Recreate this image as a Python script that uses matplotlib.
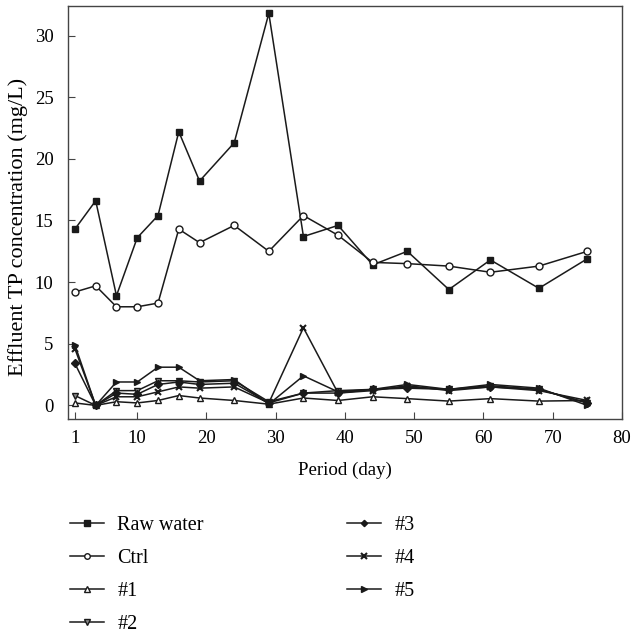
import numpy as np
import matplotlib.pyplot as plt

plt.rcParams['font.family'] = ['Liberation Serif', 'DejaVu Serif']

days = [1, 4, 7, 10, 13, 16, 19, 24, 29, 34, 39, 44, 49, 55, 61, 68, 75]

raw_water = [14.3, 16.6, 8.9, 13.6, 15.4, 22.2, 18.2, 21.3, 31.8, 13.7, 14.6, 11.4, 12.5, 9.4, 11.8, 9.5, 11.9]
ctrl = [9.2, 9.7, 8.0, 8.0, 8.3, 14.3, 13.2, 14.6, 12.5, 15.4, 13.8, 11.6, 11.5, 11.3, 10.8, 11.3, 12.5]
s1 = [0.2, 0.0, 0.3, 0.2, 0.4, 0.8, 0.6, 0.4, 0.1, 0.6, 0.4, 0.7, 0.55, 0.35, 0.55, 0.35, 0.4]
s2 = [0.8, 0.0, 1.2, 1.2, 2.0, 2.0, 1.9, 2.0, 0.3, 1.0, 1.2, 1.3, 1.5, 1.3, 1.6, 1.3, 0.2]
s3 = [3.4, 0.0, 1.0, 0.9, 1.7, 1.9, 1.7, 1.8, 0.2, 1.0, 1.0, 1.3, 1.4, 1.3, 1.5, 1.3, 0.2]
s4 = [4.6, 0.0, 0.7, 0.7, 1.1, 1.5, 1.4, 1.5, 0.2, 6.3, 1.0, 1.2, 1.6, 1.2, 1.5, 1.2, 0.4]
s5 = [4.9, 0.0, 1.9, 1.9, 3.1, 3.1, 2.0, 2.1, 0.1, 2.4, 1.1, 1.3, 1.7, 1.3, 1.7, 1.4, 0.0]

x_ticks = [1, 10, 20, 30, 40, 50, 60, 70, 80]
y_ticks = [0, 5, 10, 15, 20, 25, 30]

fig = plt.figure(figsize=(6.33, 6.35), dpi=100)
ax = fig.add_axes([0.1074, 0.3402, 0.8752, 0.6504])

k = "#1a1a1a"
ax.plot(days, raw_water, "-s", color=k, lw=1.1, ms=5, mfc=k, label="Raw water")
ax.plot(days, ctrl, "-o", color=k, lw=1.1, ms=5, mfc="white", label="Ctrl")
ax.plot(days, s1, "-^", color=k, lw=1.1, ms=5, mfc="white", label="#1")
ax.plot(days, s2, "-v", color=k, lw=1.1, ms=5, mfc="#888888", label="#2")
ax.plot(days, s3, "-D", color=k, lw=1.1, ms=4, mfc=k, label="#3")
ax.plot(days, s4, "-x", color=k, lw=1.1, ms=5, mew=1.5, label="#4")
ax.plot(days, s5, "->", color=k, lw=1.1, ms=5, mfc=k, label="#5")

ax.set_xlim(0, 80)
ax.set_ylim(-1.1, 32.4)
ax.set_xticks(x_ticks)
ax.set_yticks(y_ticks)
ax.tick_params(direction="in", length=5, labelsize=13.5, color="#444444")
ax.tick_params(axis="x", pad=7.8)
ax.tick_params(axis="y", pad=10.5)
for sp in ax.spines.values():
    sp.set_color("#444444")
    sp.set_linewidth(1.0)

ax.set_xlabel("Period (day)", fontsize=13.6, labelpad=11)
ax.set_ylabel("Effluent TP concentration (mg/L)", fontsize=16)
ax.yaxis.set_label_coords(-0.072, 0.464)

ax.legend(loc="upper left", bbox_to_anchor=(70 / 633, 1 - 515.5 / 635),
          bbox_transform=fig.transFigure, ncol=2, frameon=False,
          fontsize=14.5, handlelength=1.7, handletextpad=0.65,
          columnspacing=7.1, labelspacing=0.7, borderpad=0, borderaxespad=0,
          markerscale=0.8)

fig.savefig("out.png", dpi=100)
